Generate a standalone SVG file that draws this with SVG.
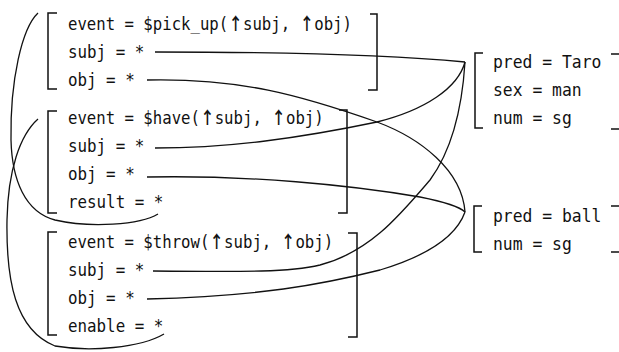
<svg xmlns="http://www.w3.org/2000/svg" width="619" height="352" viewBox="0 0 619 352">
<style>
text{font-family:"DejaVu Sans Mono","Liberation Mono",monospace;font-size:18px;fill:#111}
.ar{font-family:"Noto Sans CJK JP","DejaVu Sans",sans-serif;font-weight:bold;font-size:17px}
.br{fill:none;stroke:#111;stroke-width:1.5}
.c{fill:none;stroke:#111;stroke-width:1.3}
</style>
<rect width="619" height="352" fill="#fff"/>
<g id="pickup">
<path class="br" d="M57,13 H48 V89 H57"/>
<path class="br" d="M370,14 H377 V90 H368"/>
<text transform="matrix(0.87 0 0 1 68 30)">event = $pick_up(<tspan class="ar">↑</tspan>subj, <tspan class="ar">↑</tspan>obj)</text>
<text transform="matrix(0.88 0 0 1 68 58)">subj = *</text>
<text transform="matrix(0.88 0 0 1 68 86)">obj = *</text>
</g>
<g id="have">
<path class="br" d="M57,111 H48 V213 H57"/>
<path class="br" d="M339,110 H347 V213 H338"/>
<text transform="matrix(0.87 0 0 1 68 124)">event = $have(<tspan class="ar">↑</tspan>subj, <tspan class="ar">↑</tspan>obj)</text>
<text transform="matrix(0.88 0 0 1 68 152)">subj = *</text>
<text transform="matrix(0.88 0 0 1 68 180)">obj = *</text>
<text transform="matrix(0.88 0 0 1 68 208)">result = *</text>
</g>
<g id="throw">
<path class="br" d="M57,232 H48 V335 H57"/>
<path class="br" d="M348,233 H357 V337 H348"/>
<text transform="matrix(0.87 0 0 1 68 248)">event = $throw(<tspan class="ar">↑</tspan>subj, <tspan class="ar">↑</tspan>obj)</text>
<text transform="matrix(0.88 0 0 1 68 276)">subj = *</text>
<text transform="matrix(0.88 0 0 1 68 304)">obj = *</text>
<text transform="matrix(0.88 0 0 1 68 332)">enable = *</text>
</g>
<g id="taro">
<path class="br" d="M483,53 H475 V128 H483"/>
<path class="br" d="M611,54 H619 M611,129 H619"/>
<text transform="matrix(0.91 0 0 1 493 68)">pred = Taro</text>
<text transform="matrix(0.91 0 0 1 493 96)">sex = man</text>
<text transform="matrix(0.91 0 0 1 493 124)">num = sg</text>
</g>
<g id="ball">
<path class="br" d="M482,206 H474 V252 H482"/>
<path class="br" d="M611,206 H619 M611,252 H619"/>
<text transform="matrix(0.91 0 0 1 493 222)">pred = ball</text>
<text transform="matrix(0.91 0 0 1 493 250)">num = sg</text>
</g>
<g id="connectors">
<path class="c" d="M38,13 C22,28 10,80 11,140 C12,180 25,212 55,220 C90,228 140,225 158,214"/>
<path class="c" d="M38,119 C20,135 8,170 7,220 C6,280 15,330 55,346 C90,352 140,348 164,334"/>
<path class="c" d="M155,52 C300,52 400,56 465,62"/>
<path class="c" d="M155,148 C230,148 300,138 377,122 C425,110 458,88 465,62"/>
<path class="c" d="M153,271 C250,272 290,272 320,265 C370,252 400,215 430,180 C452,150 462,110 465,62"/>
<path class="c" d="M147,80 C240,78 300,95 377,122 C420,138 462,170 465,212"/>
<path class="c" d="M147,177 C250,175 350,185 420,197 C445,202 460,207 465,212"/>
<path class="c" d="M147,299 C260,296 320,285 380,270 C420,258 455,240 465,212"/>
</g>
</svg>
